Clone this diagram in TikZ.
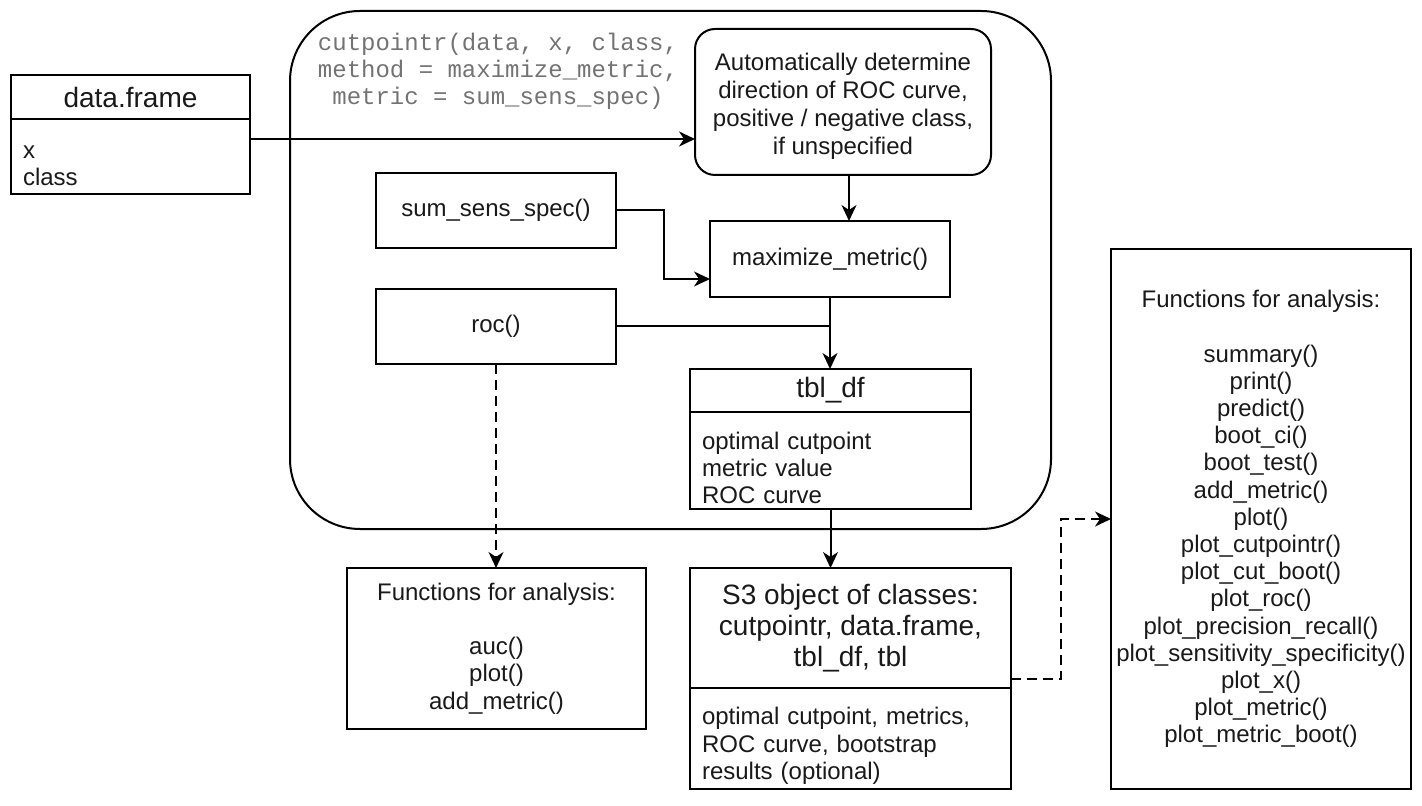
\documentclass[tikz,border=0pt]{standalone}
\usepackage{fontspec}
\setmainfont{Liberation Sans}
\setmonofont{Liberation Mono}
\usetikzlibrary{positioning, arrows.meta}

\begin{document}
\begin{tikzpicture}[
    x=0.5pt, y=-0.5pt,
    box/.style={rectangle, draw=black, line width=1pt, align=center, inner sep=0pt, outer sep=0pt, text=black!90, font=\fontsize{12}{13.6}\selectfont},
    head/.style={box, font=\fontsize{14}{15.5}\selectfont},
    list/.style={box, align=left, inner xsep=6pt, text width=#1, execute at begin node=\rule{0pt}{16pt}},
    container/.style={rectangle, draw=black, line width=1pt, rounded corners=35pt},
    code/.style={align=center, text=black!55, font=\fontsize{12}{13.5}\ttfamily},
    arr/.style={-{Stealth[length=8pt, width=7.5pt, inset=2.5pt]}, line width=1pt},
    darr/.style={arr, dash pattern=on 5pt off 3pt}
]
    \useasboundingbox (0,0) rectangle (1422,806);

    % input data
    \node[head, minimum width=119.5pt, minimum height=22pt] (df) at (130.5,97) {data.frame};
    \node[list=107.5pt, minimum height=37.5pt] (dfbody) [below=0pt of df] {x\\class};

    % cutpointr() call
    \node[container, minimum width=380.5pt, minimum height=259pt] (main) at (670.5,270) {};
    \node[code] (call) at (498,71) {cutpointr(data, x, class,\\method = maximize\_metric,\\metric = sum\_sens\_spec)};

    \node[box, rounded corners=10pt, minimum width=148pt, minimum height=73pt, font=\fontsize{12}{14}\selectfont] (auto) at (843,102) {
        \rule{0pt}{13pt}Automatically determine\\direction of ROC curve,\\positive / negative class,\\if unspecified};
    \node[box, minimum width=120pt, minimum height=38pt] (maxm) [below=23pt of auto, xshift=-6.5pt] {maximize\_metric()};
    \node[box, minimum width=120pt, minimum height=37.5pt] (sss) at (496,210.5) {sum\_sens\_spec()};
    \node[box, minimum width=120pt, minimum height=37.5pt] (roc) [below=20.5pt of sss] {roc()};

    \node[head, minimum width=140.5pt, minimum height=21.5pt] (tbl) [below=36pt of maxm, xshift=0.25pt] {tbl\_df};
    \node[list=128.5pt, minimum height=48.5pt] (tblbody) [below=0pt of tbl] {optimal cutpoint\\metric value\\ROC curve};

    % results
    \node[head, minimum width=160.5pt, minimum height=60pt] (s3) [below=29.5pt of tblbody, xshift=10pt] {
        S3 object of classes:\\cutpointr, data.frame,\\tbl\_df, tbl};
    \node[list=148.5pt, minimum height=50.5pt] (s3body) [below=0pt of s3] {
        optimal cutpoint, metrics,\\ROC curve, bootstrap\\results (optional)};

    \node[box, minimum width=149.5pt, minimum height=80.5pt] (fun1) [below=102pt of roc, xshift=0.25pt] {
        Functions for analysis:\\[13.6pt]auc()\\plot()\\add\_metric()};
    \node[box, minimum width=150pt, minimum height=270pt] (fun2) at (1261,519) {
        Functions for analysis:\\[13.6pt]summary()\\print()\\predict()\\boot\_ci()\\boot\_test()\\add\_metric()\\plot()\\
        plot\_cutpointr()\\plot\_cut\_boot()\\plot\_roc()\\plot\_precision\_recall()\\plot\_sensitivity\_specificity()\\
        plot\_x()\\plot\_metric()\\plot\_metric\_boot()};

    % connectors
    \draw[arr] (dfbody.east |- 0,139) -- (auto.west |- 0,139);
    \draw[arr] ([xshift=3pt]auto.south) -- ([xshift=3pt]auto.south |- maxm.north);
    \draw[arr] (sss.east) -- ++(24pt,0) |- ([yshift=-10pt]maxm.west);
    \draw[line width=1pt] (roc.east) -- (roc.east -| maxm.south);
    \draw[arr] (maxm.south) -- (maxm.south |- tbl.north);
    \draw[arr] (tblbody.south) -- (tblbody.south |- s3.north);
    \draw[darr] (roc.south) -- (roc.south |- fun1.north);
    \draw[darr] ([yshift=4.5pt]s3.south east) -- ++(25pt,0) |- (fun2.west);
\end{tikzpicture}
\end{document}
